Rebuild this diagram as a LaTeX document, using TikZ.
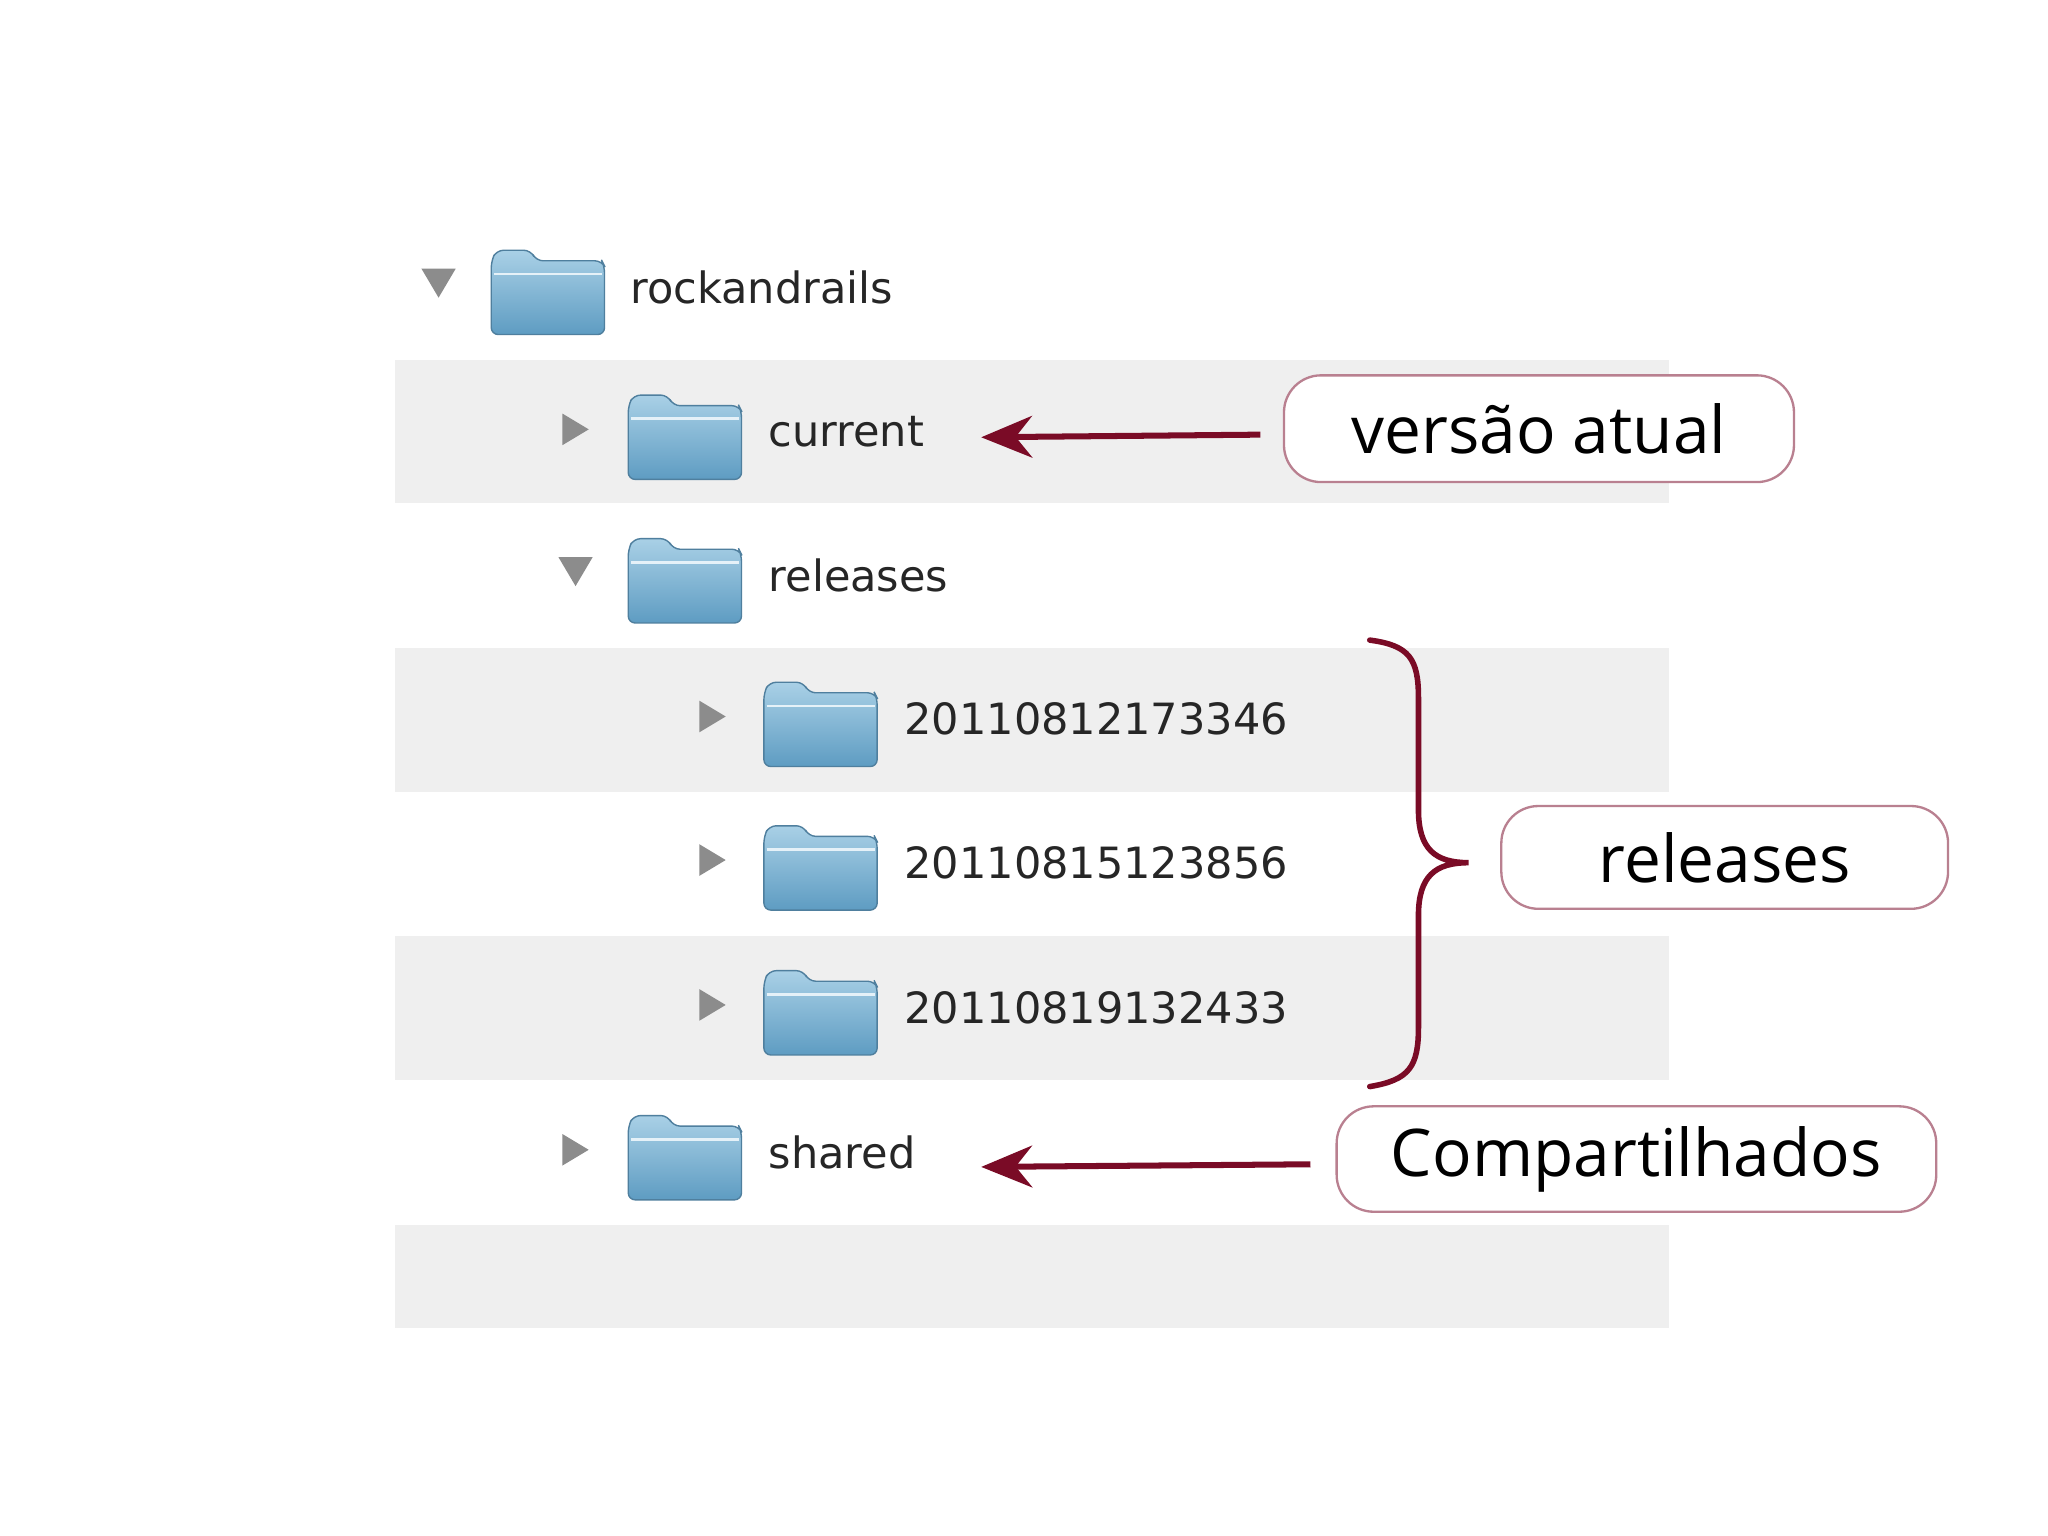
\documentclass[tikz,border=0pt]{standalone}
\usepackage{fontspec}
\setmainfont{DejaVu Sans}
\newfontfamily\callfont{Open Sans}
\usetikzlibrary{arrows.meta}
\definecolor{rowgray}{HTML}{EFEFEF}
\definecolor{dred}{HTML}{7A0B26}
\definecolor{boxred}{HTML}{B98090}
\definecolor{fldtop}{HTML}{A9D0E6}
\definecolor{fldbot}{HTML}{5E9CC2}
\definecolor{fldedge}{HTML}{4F7F9E}
\tikzset{
  lbl/.style={anchor=west,inner sep=0pt,font=\fontsize{9.3}{11}\selectfont,text=black!85},
  callout/.style={draw=boxred,line width=0.5pt,rounded corners=8pt,fill=white,inner sep=0pt},
  calltext/.style={font=\callfont\fontsize{14.2}{17}\selectfont},
  arr/.style={draw=dred,line width=1.3pt,-{Stealth[length=11pt,width=9pt]}},
  tri/.style={fill=black!45,draw=none},
}
\newcommand{\fld}[2]{%
  \fill[top color=fldtop,bottom color=fldbot,draw=fldedge,line width=0.3pt,rounded corners=1.5pt]
   (#1,#2+36) -- (#1,#2-20) -- (#1+4,#2-28) -- (#1+30,#2-28) -- (#1+34,#2-20) -- (#1+84,#2-20) -- (#1+86,#2-16) -- (#1+86,#2+36) -- cycle;
  \draw[white!70!fldtop,line width=0.6pt] (#1+2,#2-10) -- (#1+84,#2-10);
}
\newcommand{\tdown}[2]{\fill[tri] (#1-13,#2-12) -- (#1+13,#2-12) -- (#1,#2+10) -- cycle;}
\newcommand{\tright}[2]{\fill[tri] (#1-10,#2-12) -- (#1-10,#2+12) -- (#1+10,#2) -- cycle;}
\begin{document}
\begin{tikzpicture}[x=0.01cm,y=-0.01cm]
\useasboundingbox (0,0) rectangle (1555,1166);
\fill[white] (0,0) rectangle (1555,1166);
\foreach \a/\b in {273/382,492/601,711/820,930/1008}
  \fill[rowgray] (300,\a) rectangle (1267,\b);
\tdown{333}{216}\fld{373}{218}
\node[lbl] (r0) at (478,218) {rockandrails};
\tright{437}{326}\fld{477}{328}
\node[lbl] (cur) at (583,328) {current};
\tdown{437}{435}\fld{477}{437}
\node[lbl] (rel) at (583,437) {releases};
\tright{541}{544}\fld{580}{546}
\node[lbl] (d1) at (686,546) {20110812173346};
\tright{541}{653}\fld{580}{655}
\node[lbl] (d2) at (686,655) {20110815123856};
\tright{541}{763}\fld{580}{765}
\node[lbl] (d3) at (686,765) {20110819132433};
\tright{437}{873}\fld{477}{875}
\node[lbl] (sh) at (583,875) {shared};
\node[callout,minimum width=3.87cm,minimum height=0.81cm] (b1) at (1168.5,325.5) {};
\node[calltext] (t1) at (b1.center) {versão atual};
\node[callout,minimum width=3.39cm,minimum height=0.78cm] (b2) at (1309.5,651) {};
\node[calltext] (t2) at (b2.center) {releases};
\node[callout,minimum width=4.55cm,minimum height=0.80cm] (b3) at (1242.5,880) {};
\node[calltext] (t3) at (b3.center) {Compartilhados};
\coordinate (a1s) at (957,330);
\coordinate (a1e) at (745,332);
\coordinate (a2s) at (995,884);
\coordinate (a2e) at (745,886);
\draw[arr] (a1s) -- (a1e);
\draw[arr] (a2s) -- (a2e);
\coordinate (btop) at (1040,486);
\coordinate (btip) at (1115,655);
\coordinate (bbot) at (1040,825);
\draw[dred,line width=1.2pt,line cap=round] (btop) .. controls (1070,490) and (1077,500) .. (1077,530)
  -- (1077,615) .. controls (1077,645) and (1090,655) .. (btip)
  .. controls (1090,655) and (1077,665) .. (1077,695)
  -- (1077,780) .. controls (1077,810) and (1070,820) .. (bbot);
\end{tikzpicture}
\end{document}
